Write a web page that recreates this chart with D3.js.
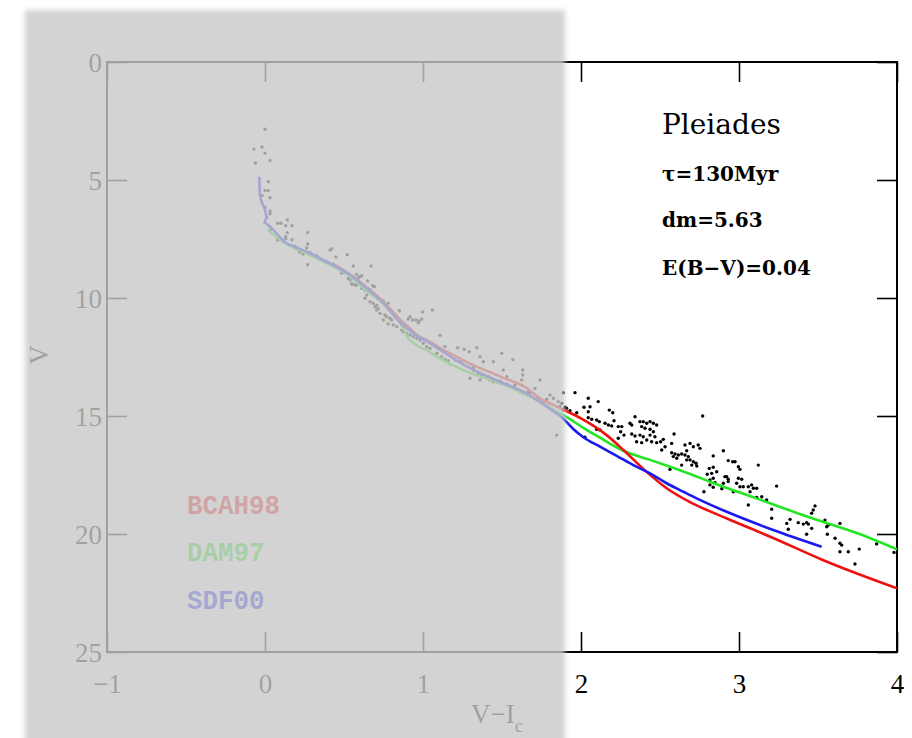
<!DOCTYPE html>
<html><head><meta charset="utf-8">
<script src="https://cdn.jsdelivr.net/npm/d3@7"></script>
<style>body{margin:0;background:#fff}svg{display:block}</style>
</head><body>
<svg id="c" width="912" height="738"></svg>
<script>
const xTicks = [-1, 0, 1, 2, 3, 4];
const yTicks = [0, 5, 10, 15, 20, 25];
const legendNames = ["BCAH98", "DAM97", "SDF00"];
const legendColors = ["#ee1111", "#22e622", "#1a1aee"];
const annotations = ["Pleiades", "\u03c4=130Myr", "dm=5.63", "E(B\u2212V)=0.04"];

const bcah98 = [[0.43,8.55],[0.517,8.90],[0.58,9.20],[0.644,9.55],[0.70,9.85],[0.77,10.3],[0.854,10.9],[0.92,11.3],[0.96,11.55],[1.044,11.85],[1.108,12.12],[1.192,12.42],[1.277,12.72],[1.487,13.32],[1.656,13.82],[1.74,14.25],[1.82,14.52],[1.91,14.80],[2.0,15.10],[2.08,15.42],[2.16,15.80],[2.27,16.45],[2.42,17.40],[2.54,18.05],[2.69,18.65],[2.92,19.33],[3.22,20.18],[3.53,21.10],[4.0,22.30]];
const dam97 = [[0.015,7.10],[0.137,7.72],[0.264,8.12],[0.348,8.38],[0.432,8.66],[0.517,8.98],[0.601,9.45],[0.685,9.90],[0.749,10.25],[0.802,10.65],[0.854,11.05],[0.886,11.45],[0.907,11.72],[0.960,11.99],[1.044,12.30],[1.108,12.56],[1.277,13.12],[1.487,13.62],[1.63,14.02],[1.76,14.48],[1.91,15.05],[2.015,15.50],[2.12,15.92],[2.258,16.44],[2.437,16.86],[2.648,17.35],[2.84,17.85],[3.11,18.49],[3.43,19.26],[3.75,19.97],[4.0,20.65]];
const sdf00 = [[-0.036,4.86],[-0.032,5.64],[0.000,6.27],[0.011,6.56],[-0.004,6.81],[0.042,7.05],[0.137,7.68],[0.190,7.83],[0.264,8.04],[0.348,8.32],[0.432,8.60],[0.517,8.93],[0.580,9.24],[0.644,9.59],[0.749,10.22],[0.854,11.03],[0.939,11.5],[1.044,11.92],[1.192,12.56],[1.277,12.90],[1.487,13.55],[1.656,14.04],[1.783,14.61],[1.888,15.12],[1.951,15.55],[2.015,15.90],[2.12,16.30],[2.226,16.69],[2.331,17.08],[2.437,17.43],[2.542,17.85],[2.648,18.21],[2.732,18.49],[2.922,19.06],[3.217,19.83],[3.523,20.54]];

const stars = [
[0.000,2.85],[-0.070,3.69],[-0.019,3.60],[0.000,3.86],[-0.061,4.28],[0.032,4.17],[0.021,5.07],[0.000,5.45],[0.021,5.45],[-0.019,5.65],[0.032,5.75],[0.000,6.16],[0.032,6.31],[0.032,6.43],[0.011,6.58],[0.080,6.83],[0.101,6.83],[0.141,6.69],[0.131,6.94],[0.171,6.94],[0.040,7.08],[0.141,7.23],[0.270,7.22],[0.131,7.40],[0.131,7.49],[0.171,7.53],[0.080,7.54],[0.270,7.71],[0.190,7.81],[0.264,7.88],[0.211,7.97],[0.222,8.06],[0.242,8.14],[0.285,8.08],[0.306,8.18],[0.327,8.21],[0.348,8.35],[0.411,7.97],[0.422,7.91],[0.449,8.26],[0.521,8.17],[0.270,8.59],[0.432,8.57],[0.559,8.64],[0.671,8.64],[0.485,8.95],[0.580,9.00],[0.612,9.06],[0.591,9.14],[0.650,9.28],[0.682,9.48],[0.551,9.42],[0.580,9.45],
[0.485,8.89],[0.500,8.93],[0.601,9.10],[0.527,9.17],[0.538,9.24],[0.591,9.31],[0.549,9.38],[0.570,9.45],[0.692,9.52],[0.612,9.59],[0.633,9.66],[0.665,9.66],[0.675,9.73],[0.644,9.87],[0.633,10.01],[0.665,10.16],[0.685,10.22],[0.707,10.30],[0.696,10.37],[0.717,10.44],[0.707,10.51],[0.749,10.11],[0.780,10.22],[0.728,10.65],[0.759,10.72],[0.770,10.79],[0.791,10.86],[0.802,10.93],[0.749,10.93],[0.850,10.54],[0.780,11.10],[0.812,11.14],[0.918,10.79],[0.907,10.89],[0.935,10.93],[0.956,10.93],[0.977,10.97],[0.992,10.89],[0.970,11.05],[0.998,10.59],[1.059,10.51],[0.834,11.22],[0.865,11.36],[0.875,11.43],[0.897,11.50],[0.918,11.57],[0.939,11.64],[0.960,11.71],[0.981,11.78],[1.108,11.58],[1.002,11.92],[1.023,12.06],[1.044,12.13],[1.139,12.06],[1.220,12.11],[1.261,12.17],[1.087,12.34],[1.118,12.49],[1.293,12.28],[1.340,12.11],[1.498,12.34],[1.361,12.49],[1.139,12.60],[1.160,12.66],[1.203,12.63],[1.234,12.70],[1.255,12.66],[1.171,12.80],[1.382,12.70],[1.445,12.70],[1.568,12.61],[1.318,12.95],[1.318,13.05],[1.350,13.19],[1.372,13.26],[1.508,13.05],[1.631,13.05],[1.631,13.26],[1.413,13.33],[1.530,13.33],[1.297,13.40],[1.361,13.47],[1.424,13.47],[1.445,13.55],[1.466,13.55],[1.487,13.52],[1.625,13.47],[1.741,13.47],[1.582,13.69],[1.625,13.69],[1.530,13.64],[1.709,13.83],[1.614,13.97],[1.635,14.04],[1.666,13.97],[1.677,14.01],[1.804,14.11],[1.730,14.25],[1.751,14.32],[1.783,14.29],[1.825,14.25],[1.761,14.39],[1.856,14.39],[1.878,14.46],[1.867,14.58],[1.899,14.63],[1.888,14.75],[1.909,14.67],[1.888,14.01],[1.962,14.01],[2.046,14.25],[1.930,14.78],[1.973,14.86],[2.019,14.63],[2.046,14.82],[1.846,15.81],[2.025,15.90],
[2.109,14.39],[2.057,14.61],[2.179,14.75],[2.201,14.86],[2.046,15.07],[2.068,15.14],[2.099,15.17],[2.116,15.24],[2.152,15.31],[2.173,15.38],[2.194,15.42],[2.209,15.20],[2.236,15.45],[2.258,15.45],[2.310,15.31],[2.321,15.38],[2.342,15.03],[2.373,15.24],[2.394,15.24],[2.416,15.31],[2.437,15.24],[2.458,15.31],[2.479,15.38],[2.384,15.45],[2.405,15.52],[2.437,15.56],[2.458,15.67],[2.251,15.67],[2.272,15.81],[2.236,15.94],[2.321,15.76],[2.342,15.85],[2.373,15.81],[2.394,15.88],[2.437,15.81],[2.468,15.88],[2.416,16.02],[2.447,16.09],[2.479,16.13],[2.504,16.09],[2.352,16.09],[2.384,16.13],[2.521,15.99],[2.099,15.56],[2.120,15.59],[2.589,15.76],[2.574,16.16],[2.532,16.30],[2.511,16.44],[2.770,15.00],[2.658,16.23],[2.690,16.16],[2.711,16.30],[2.742,16.23],[2.753,16.37],[2.574,16.56],[2.595,16.61],[2.616,16.65],[2.584,16.72],[2.606,16.79],[2.637,16.61],[2.669,16.47],[2.658,16.65],[2.679,16.72],[2.690,16.86],[2.711,16.94],[2.728,17.00],[2.701,17.08],[2.733,17.12],[2.669,16.86],[2.637,17.08],[2.837,16.69],[2.901,16.47],[2.932,16.89],[2.563,17.26],[2.812,17.22],[2.837,17.17],[2.859,17.36],[2.827,17.43],[2.799,17.47],[2.911,17.57],[2.837,17.64],[2.816,17.71],[2.848,17.83],[2.901,17.85],[2.932,17.78],[2.778,18.21],[2.816,17.92],[2.837,18.02],[2.891,18.08],[3.238,17.97],[3.122,17.08],[3.059,18.77],[3.112,18.45],[3.144,18.42],[3.175,18.56],[3.207,18.95],[3.207,19.33],[3.302,19.55],[3.312,19.80],[3.323,19.38],[3.375,19.52],[3.407,19.58],[3.428,19.52],[3.439,19.58],[3.428,20.01],[3.460,19.76],[3.460,19.12],[3.470,18.98],[3.481,18.81],[3.544,19.41],[3.555,19.69],[3.565,19.62],[3.559,20.01],[3.608,20.18],[3.639,19.55],[3.650,20.47],[3.639,20.39],[3.639,20.75],[3.692,20.75],[3.761,20.64],[3.734,21.27],[3.871,20.42],[3.981,20.78],[2.960,16.94],[2.975,16.94],[3.006,17.26],[2.996,17.15],[2.922,17.57],[2.932,17.68],[2.996,17.64],[3.017,17.68],[2.985,17.85],[3.006,18.00],[3.027,18.00],[3.059,18.00],[3.080,17.92],[3.091,18.06],[3.112,18.06],[3.070,18.21],[2.964,18.21]
];

const svg = d3.select("#c");
const L = 107, R = 897, T = 62, B = 652;
const x = d3.scaleLinear().domain([-1, 4]).range([L, R]);
const y = d3.scaleLinear().domain([0, 25]).range([T, B]);
const numFont = "'Liberation Serif', 'DejaVu Serif', serif";
const fmt = d => d < 0 ? "\u2212" + Math.abs(d) : String(d);

// frame
svg.append("rect").attr("x", L).attr("y", T).attr("width", R - L).attr("height", B - T)
  .attr("fill", "none").attr("stroke", "#000").attr("stroke-width", 2);

// axes (inward ticks)
const ax = (g, axis) => { g.call(axis); g.select(".domain").remove();
  g.selectAll(".tick line").attr("stroke", "#000").attr("stroke-width", 1.6); };
svg.append("g").attr("transform", `translate(0,${B})`)
  .call(g => ax(g, d3.axisBottom(x).tickValues(xTicks).tickSize(-20).tickFormat(fmt)))
  .selectAll("text").attr("y", 41).attr("dy", null).attr("fill", "#000")
  .style("font-family", numFont).style("font-size", "27px");
svg.append("g").attr("transform", `translate(0,${T})`)
  .call(g => ax(g, d3.axisTop(x).tickValues(xTicks).tickSize(-20).tickFormat("")));
svg.append("g").attr("transform", `translate(${L},0)`)
  .call(g => ax(g, d3.axisLeft(y).tickValues(yTicks).tickSize(-20).tickFormat(fmt)))
  .selectAll("text").attr("x", -5).attr("dy", "0.34em").attr("fill", "#000")
  .style("font-family", numFont).style("font-size", "27px");
svg.append("g").attr("transform", `translate(${R},0)`)
  .call(g => ax(g, d3.axisRight(y).tickValues(yTicks).tickSize(-20).tickFormat("")));

// axis titles
svg.append("text").attr("transform", "translate(48,355) rotate(-90)")
  .attr("text-anchor", "middle").style("font-family", numFont).style("font-size", "27px").text("V");
const xl = svg.append("text").attr("x", 471).attr("y", 723)
  .style("font-family", numFont).style("font-size", "27px");
xl.append("tspan").text("V\u2212I");
xl.append("tspan").attr("dy", 9).style("font-size", "19px").text("c");

// clip
svg.append("clipPath").attr("id", "pc").append("rect")
  .attr("x", L).attr("y", T).attr("width", R - L).attr("height", B - T);
const plot = svg.append("g").attr("clip-path", "url(#pc)");

// stars
plot.selectAll("circle.s").data(stars).join("circle").attr("class", "s")
  .attr("cx", d => x(d[0])).attr("cy", d => y(d[1])).attr("r", 1.7).attr("fill", "#000");

// isochrones
const line = d3.line().x(d => x(d[0])).y(d => y(d[1])).curve(d3.curveMonotoneX);
const curves = [bcah98, dam97, sdf00];
[1, 0, 2].forEach(i => {
  plot.append("path").attr("d", line(curves[i])).attr("fill", "none")
    .attr("stroke", legendColors[i]).attr("stroke-width", 2.6).attr("stroke-linejoin", "round");
});

// legend
const legY = [514, 561, 609];
legendNames.forEach((n, i) => {
  svg.append("text").attr("x", 187).attr("y", legY[i]).attr("fill", legendColors[i])
    .style("font-family", "'Liberation Mono', 'DejaVu Sans Mono', monospace")
    .style("font-weight", "bold").style("font-size", "27px")
    .attr("textLength", n.length * 15.5).attr("lengthAdjust", "spacingAndGlyphs").text(n);
});

// annotations
const annY = [134, 181, 227, 275];
annotations.forEach((t, i) => {
  svg.append("text").attr("x", 662).attr("y", annY[i])
    .style("font-family", "'DejaVu Serif', serif")
    .style("font-size", i === 0 ? "28px" : "20px")
    .style("font-weight", i === 0 ? "normal" : "bold").text(t);
});

// translucent gray overlay with soft edges
const defs = svg.append("defs");
defs.append("filter").attr("id", "blur").attr("x", "-5%").attr("y", "-5%")
  .attr("width", "110%").attr("height", "110%")
  .append("feGaussianBlur").attr("stdDeviation", 2.5);
svg.append("rect").attr("x", 25).attr("y", 10).attr("width", 540).attr("height", 740)
  .attr("fill", "rgb(201,201,201)").attr("opacity", 0.8).attr("filter", "url(#blur)");
</script>
</body></html>
